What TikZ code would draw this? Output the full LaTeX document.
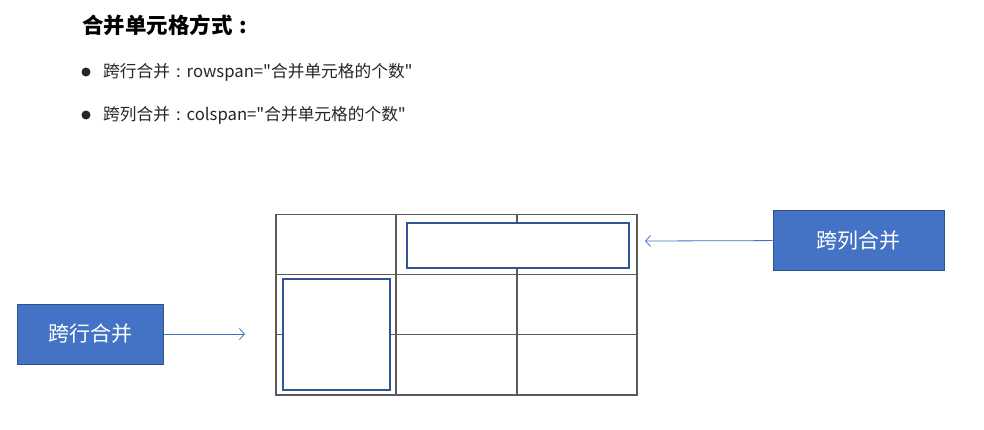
\documentclass[tikz,border=0pt]{standalone}
\usepackage{fontspec}
\newfontfamily\yahei{Noto Sans CJK SC}
\usetikzlibrary{arrows.meta}
\definecolor{azul}{HTML}{4472C4}
\definecolor{bordeazul}{HTML}{2F528F}
\definecolor{celda}{HTML}{2F5597}
\definecolor{rejilla}{HTML}{5A5A5A}
\newcommand{\dospuntos}{\makebox[1em]{:}}

\begin{document}
\begin{tikzpicture}[
    x=1pt,
    y=-1pt,
    >={Straight Barb[length=5pt,width=11pt]},
    titulo/.style={
        anchor=west,
        inner sep=0pt,
        font=\yahei\fontsize{21.5}{25}\selectfont\bfseries
    },
    linea/.style={
        anchor=west,
        inner sep=0pt,
        font=\yahei\fontsize{16.7}{20}\selectfont,
        text=black!85
    },
    punto/.style={
        circle,
        fill=black!85,
        inner sep=0pt,
        minimum size=9pt
    },
    boton/.style={
        draw=bordeazul,
        fill=azul,
        line width=1pt,
        text=white,
        minimum height=60pt,
        font=\yahei\fontsize{21}{24}\selectfont
    },
    fusion/.style={
        draw=celda,
        fill=white,
        line width=2pt,
        inner sep=0pt
    },
    flecha/.style={
        ->,
        draw=azul,
        line width=0.8pt
    }
]
    \useasboundingbox (0,0) rectangle (984,429);
    \fill[white] (0,0) rectangle (984,429);

    % encabezado
    \node[titulo] (titulo) at (82,25) {合并单元格方式\dospuntos};
    \node[punto] (punto-f) at (86,72) {};
    \node[linea] (linea-f) at (103,72) {跨行合并\dospuntos rowspan="合并单元格的个数"};
    \node[punto] (punto-c) at (86,115) {};
    \node[linea] (linea-c) at (103,115) {跨列合并\dospuntos colspan="合并单元格的个数"};

    % tabla
    \draw[rejilla, line width=1.4pt] (276,214.5) rectangle (637,395);
    \draw[rejilla, line width=1.4pt] (276,274.5) -- (637,274.5);
    \draw[rejilla, line width=1.4pt] (276,334.5) -- (637,334.5);
    \draw[rejilla, line width=1.4pt] (396,214.5) -- (396,395);
    \draw[rejilla, line width=1.4pt] (517,214.5) -- (517,395);

    \node[fusion, minimum width=222pt, minimum height=45pt] (col-fusion) at (518,245.5) {};
    \node[fusion, minimum width=107pt, minimum height=111pt] (fila-fusion) at (336.5,334.3) {};

    % botones
    \node[boton, minimum width=146pt] (boton-fila) at (90,334) {跨行合并};
    \node[boton, minimum width=171pt] (boton-col) at (858.5,240.3) {跨列合并};

    \coordinate (fin-fila) at (245,334);
    \coordinate (fin-col) at (645,241);
    \draw[flecha] (boton-fila) -- (fin-fila);
    \draw[flecha] (boton-col) -- (fin-col);
\end{tikzpicture}
\end{document}
